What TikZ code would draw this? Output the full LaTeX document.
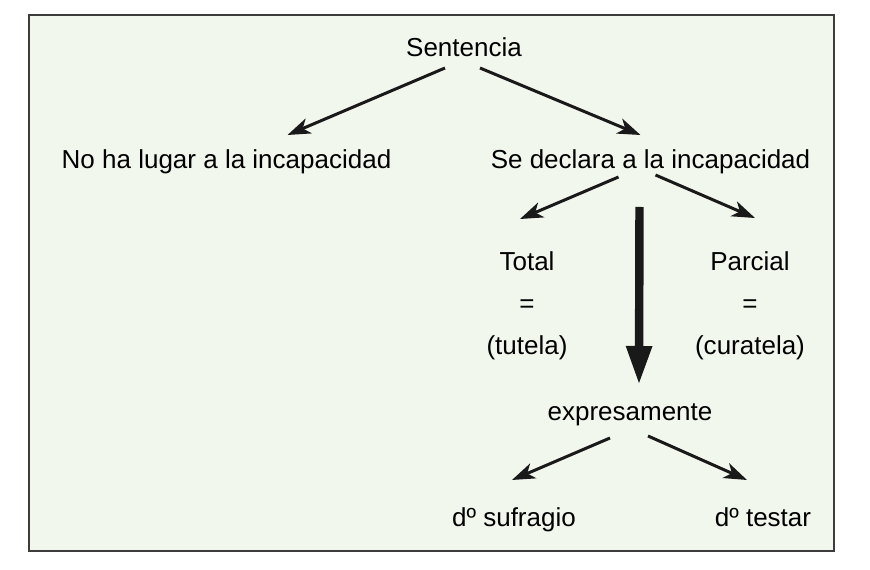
\documentclass[tikz,border=0pt]{standalone}
\usepackage{fontspec}
\setmainfont{Liberation Sans}
\usetikzlibrary{arrows.meta}
\definecolor{fondo}{HTML}{F2F7EE}
\definecolor{marco}{HTML}{3C3C3C}

\begin{document}
\begin{tikzpicture}[x=0.02cm, y=-0.02cm,
    texto/.style={anchor=base, inner sep=0, align=center, font=\fontsize{14.8}{24.1}\selectfont},
    flecha/.style={-{Stealth[length=0.46cm, width=0.32cm, inset=0.13cm]}, line width=1.7pt, draw=black!90},
    gruesa/.style={-{Triangle[length=0.78cm, width=0.48cm]}, line width=4.8pt, draw=black!90}]
    \useasboundingbox (0,0) rectangle (870,570);
    \draw[marco, fill=fondo, line width=0.8pt] (29,15) rectangle (834,551);

    \node[texto] (sent) at (464,57) {Sentencia};
    \node[texto] (nolugar) at (226.5,169) {No ha lugar a la incapacidad};
    \node[texto] (declara) at (650.5,169) {Se declara a la incapacidad};
    \node[texto, anchor=north] (total) at (527,251) {Total\\=\\(tutela)};
    \node[texto, anchor=north] (parcial) at (750,251) {Parcial\\=\\(curatela)};
    \node[texto] (expres) at (630,421) {expresamente};
    \node[texto] (sufragio) at (514,527) {dº sufragio};
    \node[texto] (testar) at (763,527) {dº testar};

    \draw[flecha] ([shift={(-19,11)}]sent.base) -- ([shift={(61,-34)}]nolugar.base);
    \draw[flecha] ([shift={(16,11)}]sent.base) -- ([shift={(-10,-34)}]declara.base);
    \draw[flecha] ([shift={(-32,8)}]declara.base) -- ([shift={(-7,-32)}]total.north);
    \draw[flecha] ([shift={(5,6)}]declara.base) -- ([shift={(5,-33)}]parcial.north);
    \draw[gruesa] ([shift={(-11,38)}]declara.base) -- ([shift={(9,-36)}]expres.base);
    \draw[flecha] ([shift={(-20,17)}]expres.base) -- ([shift={(-2,-47)}]sufragio.base);
    \draw[flecha] ([shift={(18,15)}]expres.base) -- ([shift={(-16,-47)}]testar.base);
\end{tikzpicture}
\end{document}
